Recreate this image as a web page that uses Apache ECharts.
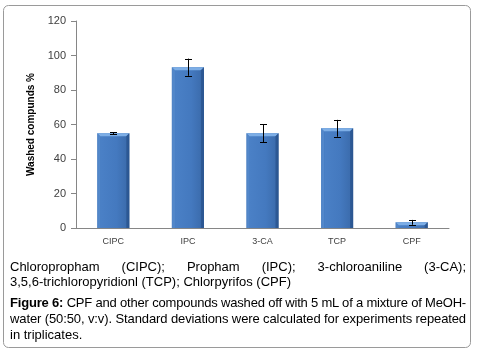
<!DOCTYPE html>
<html>
<head>
<meta charset="utf-8">
<script src="https://cdn.jsdelivr.net/npm/echarts@6/dist/echarts.min.js"></script>
<style>
  html, body { margin: 0; padding: 0; background: #fff; }
  #chart { position: absolute; left: 0; top: 0; width: 477px; height: 352px; }
  .cap { position: absolute; left: 10px; font-family: Arial, "Liberation Sans", sans-serif;
         font-size: 13px; line-height: 15px; color: #000; white-space: nowrap; }
</style>
</head>
<body>
<div id="chart"></div>
<div class="cap j" style="top:259px;">Chloropropham (CIPC); Propham (IPC); 3-chloroaniline (3-CA);</div>
<div class="cap" style="top:274px;">3,5,6-trichloropyridionl (TCP); Chlorpyrifos (CPF)</div>
<div class="cap j" style="top:295px;"><b>Figure 6:</b> CPF and other compounds washed off with 5 mL of a mixture of MeOH-</div>
<div class="cap j" style="top:311px;">water (50:50, v:v). Standard deviations were calculated for experiments repeated</div>
<div class="cap" style="top:327px;">in triplicates.</div>
<script>
const categories = ['CIPC', 'IPC', '3-CA', 'TCP', 'CPF'];
const values = [55, 93.2, 55, 57.8, 3.3];
const stdDev = [0.6, 5, 5.2, 4.9, 1.4];
const yTicks = [0, 20, 40, 60, 80, 100, 120];
const yAxisName = 'Washed compunds %';

// justify caption lines to a fixed width
const LINE_W = 456;
document.querySelectorAll('.cap.j').forEach(el => {
  const w = el.getBoundingClientRect().width;
  const text = el.textContent;
  const spaces = (text.match(/ /g) || []).length;
  if (w > LINE_W) {
    el.style.letterSpacing = ((LINE_W - w) / text.length) + 'px';
  } else if (spaces) {
    el.style.wordSpacing = ((LINE_W - w) / spaces) + 'px';
  }
});

const barData = categories.map((c, i) => [i, values[i]]);
const errData = categories.map((c, i) => [i, values[i] - stdDev[i], values[i] + stdDev[i]]);

const chart = echarts.init(document.getElementById('chart'), null, { renderer: 'canvas' });

function renderBar(params, api) {
  const idx = api.value(0);
  const top = api.coord([idx, api.value(1)]);
  const base = api.coord([idx, 0]);
  const w = api.size([1, 0])[0] * 0.43;
  const x0 = top[0] - w / 2, x1 = top[0] + w / 2;
  const y0 = top[1], y1 = base[1];
  const b = 3;
  return {
    type: 'group',
    children: [
      { type: 'rect', shape: { x: x0, y: y0, width: w, height: y1 - y0 },
        style: { fill: new echarts.graphic.LinearGradient(0, 0, 1, 0, [
          { offset: 0, color: '#3A6DB0' }, { offset: 0.12, color: '#4A80C6' },
          { offset: 0.6, color: '#4479BF' }, { offset: 0.9, color: '#3C6DAE' },
          { offset: 1, color: '#2B5894' }]) } },
      { type: 'polygon', shape: { points: [[x0, y0], [x1, y0], [x1 - b, y0 + b], [x0 + b, y0 + b]] },
        style: { fill: '#7DAEE6' } },
      { type: 'polygon', shape: { points: [[x0, y0], [x0 + b, y0 + b], [x0 + b, y1], [x0, y1]] },
        style: { fill: '#5A8ED0', opacity: 0.7 } },
      { type: 'polygon', shape: { points: [[x1, y0], [x1 - b, y0 + b], [x1 - b, y1], [x1, y1]] },
        style: { fill: '#2A5590', opacity: 0.8 } }
    ]
  };
}

function renderErr(params, api) {
  const idx = api.value(0);
  const lo = api.coord([idx, api.value(1)]);
  const hi = api.coord([idx, api.value(2)]);
  const x = Math.round(lo[0]) + 0.5;
  const hw = 3.5;
  const st = { stroke: '#000', lineWidth: 1 };
  return {
    type: 'group',
    children: [
      { type: 'line', shape: { x1: x, y1: lo[1], x2: x, y2: hi[1] }, style: st },
      { type: 'line', shape: { x1: x - hw, y1: Math.round(lo[1]) + 0.5, x2: x + hw, y2: Math.round(lo[1]) + 0.5 }, style: st },
      { type: 'line', shape: { x1: x - hw, y1: Math.round(hi[1]) + 0.5, x2: x + hw, y2: Math.round(hi[1]) + 0.5 }, style: st }
    ]
  };
}

chart.setOption({
  animation: false,
  backgroundColor: '#fff',
  graphic: [{
    type: 'rect', shape: { x: 3.5, y: 5.5, width: 467, height: 342, r: 5 },
    style: { fill: 'none', stroke: '#9A9A9A', lineWidth: 1 }, silent: true, z: 100
  }],
  grid: { left: 76, right: 28, top: 21, bottom: 124 },
  xAxis: {
    type: 'category', data: categories,
    axisLine: { lineStyle: { color: '#868686' } },
    axisTick: { alignWithLabel: false, length: 4, lineStyle: { color: '#868686' } },
    axisLabel: { color: '#404040', fontSize: 9, fontFamily: 'Arial', margin: 9 }
  },
  yAxis: {
    type: 'value', min: 0, max: 120, interval: 20,
    name: yAxisName, nameLocation: 'middle', nameGap: 36, nameRotate: 90,
    nameTextStyle: { fontSize: 10, fontWeight: 'bold', fontFamily: 'Arial', color: '#000' },
    axisLine: { show: true, lineStyle: { color: '#868686' } },
    axisTick: { show: true, length: 5, lineStyle: { color: '#868686' } },
    splitLine: { show: false },
    axisLabel: { color: '#404040', fontSize: 11, fontFamily: 'Arial', margin: 10,
      formatter: v => yTicks.includes(v) ? String(v) : '' }
  },
  series: [
    { type: 'custom', data: barData, renderItem: renderBar, encode: { x: 0, y: 1 }, z: 2 },
    { type: 'custom', data: errData, renderItem: renderErr, encode: { x: 0, y: [1, 2] }, z: 3 }
  ]
});
</script>
</body>
</html>
